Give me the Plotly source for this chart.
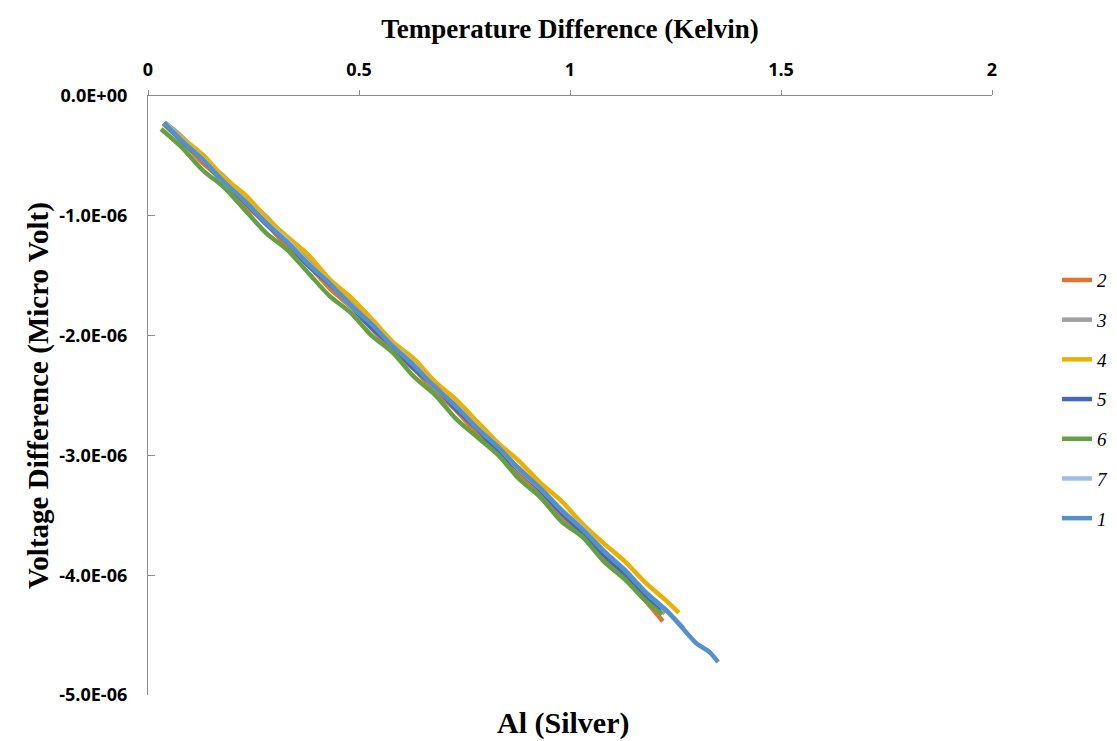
import plotly.graph_objects as go

# Temperature difference (K) and voltage difference (µV) per run
t2 = [0.036, 0.08, 0.13, 0.18, 0.23, 0.28, 0.33, 0.38, 0.43, 0.48, 0.53, 0.58, 0.63, 0.68, 0.73,
      0.78, 0.83, 0.88, 0.93, 0.98, 1.03, 1.08, 1.13, 1.18, 1.22]
v2 = [-0.233, -0.374, -0.560, -0.712, -0.908, -1.064, -1.255, -1.412, -1.603, -1.759,
      -1.940, -2.127, -2.278, -2.464, -2.625, -2.817, -2.973, -3.154, -3.310, -3.502,
      -3.663, -3.854, -4.015, -4.217, -4.384]

t3 = [0.040, 0.08, 0.13, 0.18, 0.23, 0.28, 0.33, 0.38, 0.43, 0.48, 0.53, 0.58, 0.63, 0.68, 0.73,
      0.78, 0.83, 0.88, 0.93, 0.98, 1.03, 1.08, 1.13, 1.18, 1.225]
v3 = [-0.222, -0.339, -0.520, -0.672, -0.853, -1.004, -1.205, -1.367, -1.558, -1.709,
      -1.910, -2.062, -2.243, -2.434, -2.585, -2.767, -2.958, -3.109, -3.290, -3.482,
      -3.633, -3.814, -4.005, -4.167, -4.321]

t4 = [0.040, 0.08, 0.13, 0.18, 0.23, 0.28, 0.33, 0.38, 0.43, 0.48, 0.53, 0.58, 0.63, 0.68, 0.73,
      0.78, 0.83, 0.88, 0.93, 0.98, 1.03, 1.08, 1.13, 1.18, 1.23, 1.258]
v4 = [-0.242, -0.349, -0.490, -0.682, -0.823, -1.014, -1.175, -1.327, -1.528, -1.679,
      -1.860, -2.052, -2.193, -2.384, -2.535, -2.717, -2.898, -3.049, -3.230, -3.382,
      -3.573, -3.734, -3.885, -4.067, -4.218, -4.314]

t5 = [0.038, 0.08, 0.13, 0.18, 0.23, 0.28, 0.33, 0.38, 0.43, 0.48, 0.53, 0.58, 0.63, 0.68, 0.73,
      0.78, 0.83, 0.88, 0.93, 0.98, 1.03, 1.08, 1.13, 1.18, 1.213]
v5 = [-0.225, -0.379, -0.530, -0.732, -0.883, -1.069, -1.220, -1.417, -1.568, -1.749,
      -1.935, -2.087, -2.273, -2.424, -2.615, -2.777, -2.968, -3.124, -3.290, -3.482,
      -3.643, -3.829, -3.990, -4.177, -4.300]

t6 = [0.031, 0.08, 0.13, 0.18, 0.23, 0.28, 0.33, 0.38, 0.43, 0.48, 0.53, 0.58, 0.63, 0.68, 0.73,
      0.78, 0.83, 0.88, 0.93, 0.98, 1.03, 1.08, 1.13, 1.18, 1.218]
v6 = [-0.276, -0.429, -0.620, -0.762, -0.953, -1.144, -1.285, -1.477, -1.668, -1.809,
      -2.000, -2.142, -2.343, -2.494, -2.695, -2.847, -2.998, -3.199, -3.350, -3.552,
      -3.683, -3.884, -4.035, -4.217, -4.327]

t7 = [0.045, 0.08, 0.13, 0.18, 0.23, 0.28, 0.33, 0.38, 0.43, 0.48, 0.53, 0.58, 0.63, 0.68, 0.73,
      0.78, 0.83, 0.88, 0.93, 0.98, 1.03, 1.08, 1.13, 1.18, 1.23, 1.27]
v7 = [-0.239, -0.369, -0.525, -0.717, -0.873, -1.054, -1.205, -1.397, -1.558, -1.749,
      -1.900, -2.082, -2.238, -2.429, -2.585, -2.767, -2.928, -3.119, -3.275, -3.452,
      -3.608, -3.794, -3.955, -4.142, -4.298, -4.445]

t1 = [0.038, 0.08, 0.13, 0.18, 0.23, 0.28, 0.33, 0.38, 0.43, 0.48, 0.53, 0.58, 0.63, 0.68, 0.73,
      0.78, 0.83, 0.88, 0.93, 0.98, 1.03, 1.08, 1.13, 1.18, 1.23, 1.27, 1.30, 1.33, 1.351]
v1 = [-0.225, -0.372, -0.530, -0.716, -0.878, -1.060, -1.220, -1.402, -1.561, -1.745,
      -1.905, -2.088, -2.248, -2.430, -2.590, -2.772, -2.930, -3.115, -3.275, -3.458,
      -3.618, -3.800, -3.958, -4.145, -4.300, -4.455, -4.570, -4.640, -4.725]

series_names = ["2", "3", "4", "5", "6", "7", "1"]
series_t = [t2, t3, t4, t5, t6, t7, t1]
series_v = [v2, v3, v4, v5, v6, v7, v1]
colors = ["#DF7433", "#A0A0A0", "#EBB000", "#4069B8", "#66A040", "#9DC0E6", "#5590C8"]

x_ticks = [0, 0.5, 1, 1.5, 2]
x_ticktext = ["0", "0.5", "1", "1.5", "2"]
y_ticks = [0, -1e-6, -2e-6, -3e-6, -4e-6, -5e-6]
y_ticktext = ["0.0E+00", "-1.0E-06", "-2.0E-06", "-3.0E-06", "-4.0E-06", "-5.0E-06"]

fig = go.Figure()
for name, t, v, c in zip(series_names, series_t, series_v, colors):
    fig.add_trace(go.Scatter(
        x=t, y=[val * 1e-6 for val in v], mode="lines", name=name,
        legendgroup=name,
        line=dict(color=c, width=4.5, shape="spline", smoothing=0.8),
    ))

tick_font = dict(family="Open Sans", size=18, color="#000000", weight="bold")

fig.update_layout(
    width=1117, height=741,
    margin=dict(l=148, r=125, t=96, b=46, autoexpand=False),
    paper_bgcolor="white", plot_bgcolor="white",
    showlegend=True,
    legend=dict(
        x=1.077, xanchor="left", xref="paper",
        y=0.494, yanchor="middle",
        font=dict(family="Liberation Serif", size=19, color="#000000", style="italic"),
        tracegroupgap=12,
        bgcolor="rgba(0,0,0,0)",
    ),
    xaxis=dict(
        side="top", range=[0, 2], tickvals=x_ticks, ticktext=x_ticktext,
        showline=True, linecolor="#8C8C8C", linewidth=1.3,
        ticks="outside", ticklen=5, tickcolor="#8C8C8C",
        showgrid=False, zeroline=False,
        tickfont=tick_font, ticklabelstandoff=7,
        title=dict(text="Temperature Difference (Kelvin)",
                   font=dict(family="Liberation Serif", size=27, color="#000000", weight="bold"),
                   standoff=10),
    ),
    yaxis=dict(
        range=[-5e-6, 0], tickvals=y_ticks, ticktext=y_ticktext,
        showline=True, linecolor="#8C8C8C", linewidth=1.3,
        ticks="inside", ticklen=7, tickcolor="#8C8C8C",
        showgrid=False, zeroline=False,
        tickfont=tick_font, ticklabelstandoff=16,
        title=dict(text="Voltage Difference (Micro Volt)",
                   font=dict(family="Liberation Serif", size=29, color="#000000", weight="bold"),
                   standoff=2),
    ),
    annotations=[dict(
        text="Al (Silver)", xref="paper", yref="paper", x=0.492, y=-0.015,
        xanchor="center", yanchor="top", showarrow=False,
        font=dict(family="Liberation Serif", size=30, color="#000000", weight="bold"),
    )],
)

fig.write_html("out.html")
